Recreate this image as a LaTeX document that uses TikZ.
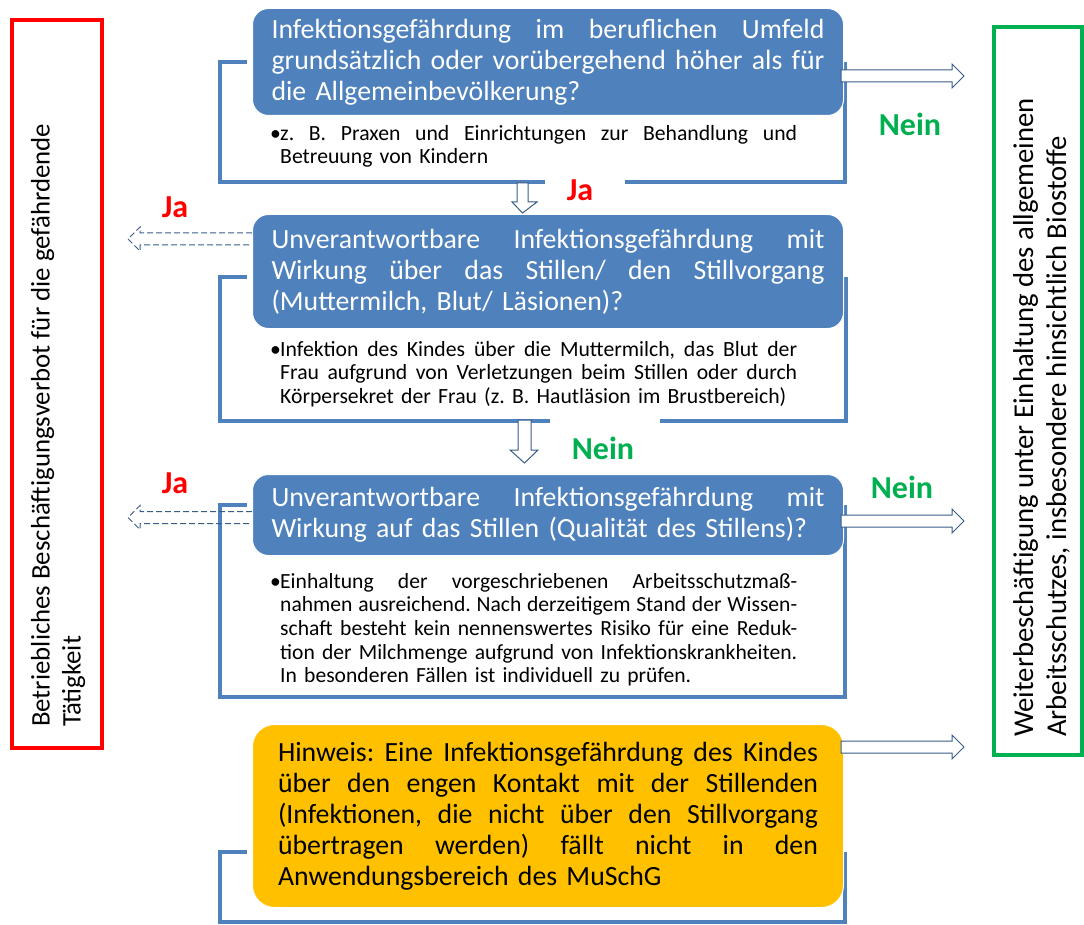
\documentclass[tikz,border=0pt]{standalone}
\usepackage{fontspec}
\setmainfont{Carlito}
\definecolor{bxblue}{HTML}{4F81BD}
\definecolor{arblue}{HTML}{385D8A}
\definecolor{grn}{HTML}{00B050}
\definecolor{orng}{HTML}{FFC000}
\frenchspacing
\newcommand\jline[1]{\hbox to \hsize{\spaceskip=0.22em plus 1fil minus 0.1em #1}}
\newcommand\lline[1]{\hbox to \hsize{#1\hfill}}
\newcommand\lines[1]{\vbox{#1}}
\begin{document}
\begin{tikzpicture}[x=1pt,y=-1pt,
  qbox/.style={rounded corners=16pt, fill=bxblue, draw=white, line width=1pt, text=white,
    font=\fontsize{27.8}{31}\selectfont, inner xsep=19pt, inner ysep=0pt, text width=553pt,
    anchor=north west},
  hbox/.style={rounded corners=22pt, fill=orng, draw=white, line width=1pt, text=black,
    font=\fontsize{27.8}{31}\selectfont, inner xsep=25.5pt, inner ysep=0pt, text width=540pt,
    anchor=north west},
  btext/.style={font=\fontsize{21.7}{23.7}\selectfont, inner sep=0pt, text width=527pt,
    anchor=north west, text=black},
  bracket/.style={draw=bxblue, line width=4pt},
  harrow/.style={draw=arblue, line width=1pt, fill=white, line join=miter},
  darrow/.style={draw=arblue, line width=1pt, dashed, dash pattern=on 6pt off 3pt},
  side/.style={rotate=90, inner sep=0pt, anchor=west},
  jalbl/.style={text=red, font=\bfseries\fontsize{32}{34}\selectfont, inner sep=0pt},
  neinlbl/.style={text=grn, font=\bfseries\fontsize{32}{34}\selectfont, inner sep=0pt}
]
\useasboundingbox (0,0) rectangle (1084,925);

% side boxes
\draw[red, line width=4pt] (12,20) rectangle (102,748);
\draw[grn, line width=4pt] (994,27) rectangle (1082,755);
\node[side, font=\fontsize{26.8}{31}\selectfont] (verbot) at (58,727)
  {\lines{\hbox{Betriebliches Beschäftigungsverbot für die gefährdende}\hbox{Tätigkeit}}};
\node[side, font=\fontsize{28.7}{33}\selectfont] (weiter) at (1041.5,737)
  {\lines{\hbox{Weiterbeschäftigung unter Einhaltung des allgemeinen}\hbox{Arbeitsschutzes, insbesondere hinsichtlich Biostoffe}}};

% brackets
\draw[bracket] (247,62) -- (220,62) -- (220,182) -- (545,182);
\draw[bracket] (625,182) -- (845,182) -- (845,62);
\draw[bracket] (247,277) -- (220,277) -- (220,421) -- (550,421);
\draw[bracket] (660,421) -- (846,421) -- (846,277);
\draw[bracket] (247,505) -- (220,505) -- (220,697) -- (845,697) -- (845,505);
\draw[bracket] (247,852) -- (220,852) -- (220,922) -- (845,922) -- (845,852);

% question boxes
\node[qbox, minimum height=107pt] (q1) at (252,8) {\lines{%
\jline{Infektionsgefährdung im beruflichen Umfeld}%
\jline{grundsätzlich oder vorübergehend höher als für}%
\lline{die Allgemeinbevölkerung?}}};
\node[qbox, minimum height=114pt] (q2) at (252,214) {\lines{%
\jline{Unverantwortbare Infektionsgefährdung mit}%
\jline{Wirkung über das Stillen/ den Stillvorgang}%
\lline{(Muttermilch, Blut/ Läsionen)?}}};
\node[qbox, minimum height=81pt] (q3) at (252,474) {\lines{%
\jline{Unverantwortbare Infektionsgefährdung mit}%
\lline{Wirkung auf das Stillen (Qualität des Stillens)?}}};
\node[hbox, minimum height=183pt] (hinweis) at (252,724) {\lines{%
\jline{Hinweis: Eine Infektionsgefährdung des Kindes}%
\jline{über den engen Kontakt mit der Stillenden}%
\jline{(Infektionen, die nicht über den Stillvorgang}%
\jline{übertragen werden) fällt nicht in den}%
\lline{Anwendungsbereich des MuSchG}}};

% bullet texts
\node[btext] (b1) at (270,125) {\lines{%
\jline{\makebox[10pt][l]{•}z. B. Praxen und Einrichtungen zur Behandlung und}%
\lline{\hspace*{10pt}Betreuung von Kindern}}};
\node[btext] (b2) at (270,341) {\lines{%
\jline{\makebox[10pt][l]{•}Infektion des Kindes über die Muttermilch, das Blut der}%
\jline{\hspace*{10pt}Frau aufgrund von Verletzungen beim Stillen oder durch}%
\lline{\hspace*{10pt}Körpersekret der Frau (z. B. Hautläsion im Brustbereich)}}};
\node[btext, font=\fontsize{21.6}{23.6}\selectfont] (b3) at (270,573) {\lines{%
\jline{\makebox[10pt][l]{•}Einhaltung der vorgeschriebenen Arbeitsschutzmaß-}%
\jline{\hspace*{10pt}nahmen ausreichend. Nach derzeitigem Stand der Wissen-}%
\jline{\hspace*{10pt}schaft besteht kein nennenswertes Risiko für eine Reduk-}%
\jline{\hspace*{10pt}tion der Milchmenge aufgrund von Infektionskrankheiten.}%
\lline{\hspace*{10pt}In besonderen Fällen ist individuell zu prüfen.}}};

% labels
\node[jalbl] (ja1) at (580,190) {Ja};
\node[jalbl] (ja2) at (175,207) {Ja};
\node[jalbl] (ja3) at (175,483) {Ja};
\node[neinlbl] (nein1) at (910,124) {Nein};
\node[neinlbl] (nein2) at (603,448) {Nein};
\node[neinlbl] (nein3) at (902,487) {Nein};

% down arrows
\draw[harrow] (517,183) -- (528,183) -- (528,202) -- (537,202) -- (522.5,213) -- (512,202) -- (517,202) -- cycle;
\draw[harrow] (518,420) -- (531,420) -- (531,450) -- (538,450) -- (524.5,463) -- (510,450) -- (518,450) -- cycle;

% right arrows (Nein)
\draw[harrow] (841,70) -- (952,70) -- (952,64) -- (964,76) -- (952,88) -- (952,82) -- (841,82) -- cycle;
\draw[harrow] (841,515) -- (952,515) -- (952,509) -- (964,521) -- (952,533) -- (952,527) -- (841,527) -- cycle;
\draw[harrow] (841,741) -- (952,741) -- (952,735) -- (964,747) -- (952,759) -- (952,753) -- (841,753) -- cycle;

% left dashed arrows (Ja)
\draw[darrow] (252,233) -- (140,233) -- (140,227) -- (128,239) -- (140,251) -- (140,245) -- (252,245);
\draw[darrow] (252,511.5) -- (140,511.5) -- (140,505.5) -- (128,517.5) -- (140,529.5) -- (140,523.5) -- (252,523.5);
\end{tikzpicture}
\end{document}
